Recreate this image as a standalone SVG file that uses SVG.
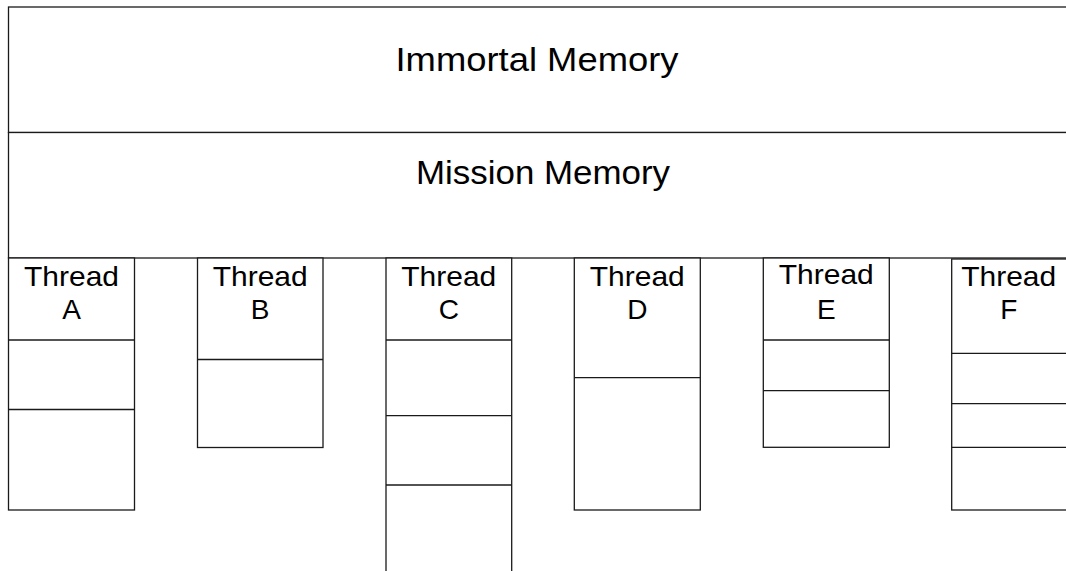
<svg xmlns="http://www.w3.org/2000/svg" width="1066" height="571" viewBox="0 0 1066 571">
<style>
.box{fill:#fff;stroke:#1a1a1a;stroke-width:1.3}
.div{stroke:#1a1a1a;stroke-width:1.3;fill:none}
.big{font-family:"Liberation Sans",Arial,sans-serif;font-size:33px;fill:#000;text-anchor:middle}
.lbl{font-family:"Liberation Sans",Arial,sans-serif;font-size:28px;fill:#000;text-anchor:middle}
</style>
<rect width="1066" height="571" fill="#fff"/>
<g id="immortal-memory">
<rect class="box" x="8.5" y="7" width="1070" height="125.5"/>
<text class="big" x="537" y="71" textLength="283" lengthAdjust="spacingAndGlyphs">Immortal Memory</text>
</g>
<g id="mission-memory">
<rect class="box" x="8.5" y="132.5" width="1070" height="125.5"/>
<text class="big" x="543" y="183.5" textLength="254" lengthAdjust="spacingAndGlyphs">Mission Memory</text>
</g>
<g id="thread-a">
<rect class="box" x="8.5" y="258" width="126" height="252"/>
<line class="div" x1="8.5" y1="340" x2="134.5" y2="340"/>
<line class="div" x1="8.5" y1="409.5" x2="134.5" y2="409.5"/>
<text class="lbl" x="71.5" y="286" textLength="95" lengthAdjust="spacingAndGlyphs">Thread</text>
<text class="lbl" x="71.5" y="318.5">A</text>
</g>
<g id="thread-b">
<rect class="box" x="197.5" y="258" width="125.5" height="189.5"/>
<line class="div" x1="197.5" y1="359.5" x2="323" y2="359.5"/>
<text class="lbl" x="260.2" y="286" textLength="95" lengthAdjust="spacingAndGlyphs">Thread</text>
<text class="lbl" x="260.2" y="318.5">B</text>
</g>
<g id="thread-c">
<rect class="box" x="386" y="258" width="125.7" height="330"/>
<line class="div" x1="386" y1="340" x2="511.7" y2="340"/>
<line class="div" x1="386" y1="415.7" x2="511.7" y2="415.7"/>
<line class="div" x1="386" y1="485" x2="511.7" y2="485"/>
<text class="lbl" x="448.8" y="286" textLength="95" lengthAdjust="spacingAndGlyphs">Thread</text>
<text class="lbl" x="448.8" y="318.5">C</text>
</g>
<g id="thread-d">
<rect class="box" x="574.3" y="258" width="126" height="252"/>
<line class="div" x1="574.3" y1="377.7" x2="700.3" y2="377.7"/>
<text class="lbl" x="637.3" y="286" textLength="95" lengthAdjust="spacingAndGlyphs">Thread</text>
<text class="lbl" x="637.3" y="318.5">D</text>
</g>
<g id="thread-e">
<rect class="box" x="763.3" y="258" width="126" height="189.3"/>
<line class="div" x1="763.3" y1="340" x2="889.3" y2="340"/>
<line class="div" x1="763.3" y1="390.7" x2="889.3" y2="390.7"/>
<text class="lbl" x="826.3" y="284" textLength="95" lengthAdjust="spacingAndGlyphs">Thread</text>
<text class="lbl" x="826.3" y="318.5">E</text>
</g>
<g id="thread-f">
<rect class="box" x="951.7" y="259" width="130" height="251"/>
<line class="div" x1="951.7" y1="353.3" x2="1080" y2="353.3"/>
<line class="div" x1="951.7" y1="403.7" x2="1080" y2="403.7"/>
<line class="div" x1="951.7" y1="447.3" x2="1080" y2="447.3"/>
<text class="lbl" x="1008.7" y="286" textLength="95" lengthAdjust="spacingAndGlyphs">Thread</text>
<text class="lbl" x="1008.7" y="318.5">F</text>
</g>
<g id="connectors"/>
</svg>
